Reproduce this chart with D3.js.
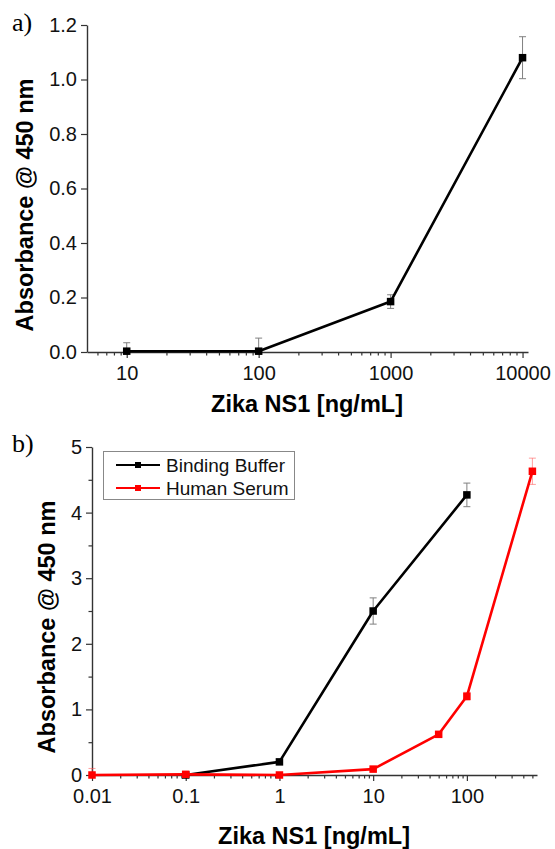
<!DOCTYPE html>
<html>
<head>
<meta charset="utf-8">
<script src="https://cdn.jsdelivr.net/npm/d3@7"></script>
<style>
  html, body { margin: 0; padding: 0; background: #fff; }
  svg { display: block; }
  text { font-family: "Liberation Sans", Arial, sans-serif; }
</style>
</head>
<body>
<svg id="chart" width="555" height="849"></svg>
<script>
// ---- Panel a data ----
const aConc = [10, 100, 1000, 10000];
const aAbs = [0.003, 0.003, 0.185, 1.08];
const aErr = [0.031, 0.048, 0.025, 0.077];
const aYTicks = [0, 0.2, 0.4, 0.6, 0.8, 1.0, 1.2];
const aXTicks = [10, 100, 1000, 10000];

// ---- Panel b data ----
const bBufferConc = [0.1, 1, 10, 100];
const bBufferAbs = [0.0, 0.2, 2.5, 4.27];
const bBufferErr = [0.0, 0.03, 0.2, 0.18];
const bSerumConc = [0.01, 0.1, 1, 10, 50, 100, 500];
const bSerumAbs = [0.0, 0.01, 0.0, 0.09, 0.62, 1.2, 4.63];
const bSerumErr = [0.1, 0.02, 0.0, 0.02, 0.03, 0.06, 0.2];
const bYTicks = [0, 1, 2, 3, 4, 5];
const bYMinor = [0.5, 1.5, 2.5, 3.5, 4.5];
const bXTicks = [0.01, 0.1, 1, 10, 100];
const seriesNames = ["Binding Buffer", "Human Serum"];
const seriesColors = ["#000000", "#ff0000"];
const errColors = ["#808080", "rgba(255,80,80,0.55)"];

const yLabel = "Absorbance @ 450 nm";
const xLabel = "Zika NS1 [ng/mL]";

const svg = d3.select("#chart");
const axisColor = "#333";

function minorLog(lo, hi) {
  const out = [];
  for (let e = Math.floor(Math.log10(lo)); e <= Math.ceil(Math.log10(hi)); e++) {
    for (let m = 2; m <= 9; m++) {
      const v = m * Math.pow(10, e);
      if (v > lo && v < hi) out.push(v);
    }
  }
  return out;
}

function styleAxis(g, fs) {
  g.select(".domain").attr("stroke", axisColor).attr("stroke-width", 1.4);
  g.selectAll(".tick line").attr("stroke", axisColor).attr("stroke-width", 1.2);
  g.selectAll(".tick text").attr("fill", "#111").style("font-size", fs + "px")
    .style("font-family", '"Liberation Sans", Arial, sans-serif');
}

function drawSeries(g, x, y, xs, ys, errs, color, ecolor, lw, ms, capW) {
  const line = d3.line().x((d, i) => x(xs[i])).y((d, i) => y(ys[i]));
  // error bars
  const eb = g.append("g");
  xs.forEach((xv, i) => {
    if (!errs[i]) return;
    const cx = x(xv), y1 = y(ys[i] + errs[i]), y2 = y(Math.max(ys[i] - errs[i], y.domain()[0] - 1));
    eb.append("line").attr("x1", cx).attr("x2", cx).attr("y1", y1).attr("y2", Math.min(y2, y(y.domain()[0]))).attr("stroke", ecolor).attr("stroke-width", 1);
    eb.append("line").attr("x1", cx - capW).attr("x2", cx + capW).attr("y1", y1).attr("y2", y1).attr("stroke", ecolor).attr("stroke-width", 1);
    if (ys[i] - errs[i] >= y.domain()[0]) {
      eb.append("line").attr("x1", cx - capW).attr("x2", cx + capW).attr("y1", y2).attr("y2", y2).attr("stroke", ecolor).attr("stroke-width", 1);
    }
  });
  g.append("path").datum(ys).attr("d", line).attr("fill", "none")
    .attr("stroke", color).attr("stroke-width", lw).attr("stroke-linejoin", "round");
  g.selectAll(null).data(ys).enter().append("rect")
    .attr("x", (d, i) => x(xs[i]) - ms / 2).attr("y", d => y(d) - ms / 2)
    .attr("width", ms).attr("height", ms).attr("fill", color);
}

// ================= Panel a =================
const xa = d3.scaleLog().domain([5, 11000]).range([87, 528]);
const ya = d3.scaleLinear().domain([0, 1.2]).range([352, 25]);

const ga = svg.append("g");
const axA = ga.append("g").attr("transform", "translate(0,352)")
  .call(d3.axisBottom(xa).tickValues(aXTicks).tickFormat(d3.format("d")).tickSize(6).tickSizeOuter(0).tickPadding(8));
styleAxis(axA, 20);
const axAm = ga.append("g").attr("transform", "translate(0,352)")
  .call(d3.axisBottom(xa).tickValues(minorLog(5, 11000)).tickFormat("").tickSize(3.5).tickSizeOuter(0));
styleAxis(axAm, 20);
axAm.select(".domain").remove();
const ayA = ga.append("g").attr("transform", "translate(87,0)")
  .call(d3.axisLeft(ya).tickValues(aYTicks).tickFormat(d3.format(".1f")).tickSize(6).tickSizeOuter(0).tickPadding(4));
styleAxis(ayA, 20);

drawSeries(ga, xa, ya, aConc, aAbs, aErr, "#000", "#808080", 2.6, 7.5, 3.5);

ga.append("text").attr("transform", "translate(33,205) rotate(-90)").attr("text-anchor", "middle")
  .style("font-size", "23.5px").style("font-weight", "bold").text(yLabel);
ga.append("text").attr("x", 307).attr("y", 412).attr("text-anchor", "middle")
  .style("font-size", "23.5px").style("font-weight", "bold").text(xLabel);
ga.append("text").attr("x", 12).attr("y", 31).style("font-family", '"Liberation Serif", "Times New Roman", serif')
  .style("font-size", "26px").text("a)");

// ================= Panel b =================
const xb = d3.scaleLog().domain([0.01, 560]).range([92, 537]);
const yb = d3.scaleLinear().domain([0, 5]).range([775, 447]);

const gb = svg.append("g");
const axB = gb.append("g").attr("transform", "translate(0,775)")
  .call(d3.axisBottom(xb).tickValues(bXTicks).tickFormat(d => String(d)).tickSize(6).tickSizeOuter(0).tickPadding(8));
styleAxis(axB, 20);
const axBm = gb.append("g").attr("transform", "translate(0,775)")
  .call(d3.axisBottom(xb).tickValues(minorLog(0.01, 560)).tickFormat("").tickSize(3.5).tickSizeOuter(0));
styleAxis(axBm, 20);
axBm.select(".domain").remove();
const ayB = gb.append("g").attr("transform", "translate(92,0)")
  .call(d3.axisLeft(yb).tickValues(bYTicks).tickFormat(d3.format("d")).tickSize(6).tickSizeOuter(0).tickPadding(4));
styleAxis(ayB, 20);
const ayBm = gb.append("g").attr("transform", "translate(92,0)")
  .call(d3.axisLeft(yb).tickValues(bYMinor).tickFormat("").tickSize(3.5).tickSizeOuter(0));
styleAxis(ayBm, 20);
ayBm.select(".domain").remove();

drawSeries(gb, xb, yb, bBufferConc, bBufferAbs, bBufferErr, seriesColors[0], errColors[0], 2.6, 7.5, 3.5);
drawSeries(gb, xb, yb, bSerumConc, bSerumAbs, bSerumErr, seriesColors[1], errColors[1], 2.6, 7.5, 3.5);

gb.append("text").attr("transform", "translate(55,627) rotate(-90)").attr("text-anchor", "middle")
  .style("font-size", "23.5px").style("font-weight", "bold").text(yLabel);
gb.append("text").attr("x", 314).attr("y", 844).attr("text-anchor", "middle")
  .style("font-size", "23.5px").style("font-weight", "bold").text(xLabel);
gb.append("text").attr("x", 12).attr("y", 452).style("font-family", '"Liberation Serif", "Times New Roman", serif')
  .style("font-size", "26px").text("b)");

// Legend
const lg = gb.append("g");
lg.append("rect").attr("x", 103.5).attr("y", 451.5).attr("width", 191).attr("height", 48)
  .attr("fill", "#fff").attr("stroke", "#888").attr("stroke-width", 1);
seriesNames.forEach((name, i) => {
  const yy = 465 + i * 23;
  lg.append("line").attr("x1", 116).attr("x2", 160).attr("y1", yy).attr("y2", yy)
    .attr("stroke", seriesColors[i]).attr("stroke-width", 2);
  lg.append("rect").attr("x", 138 - 3).attr("y", yy - 3).attr("width", 6).attr("height", 6).attr("fill", seriesColors[i]);
  lg.append("text").attr("x", 166).attr("y", yy + 6.5).style("font-size", "19px").attr("fill", "#111").text(name);
});
</script>
</body>
</html>
